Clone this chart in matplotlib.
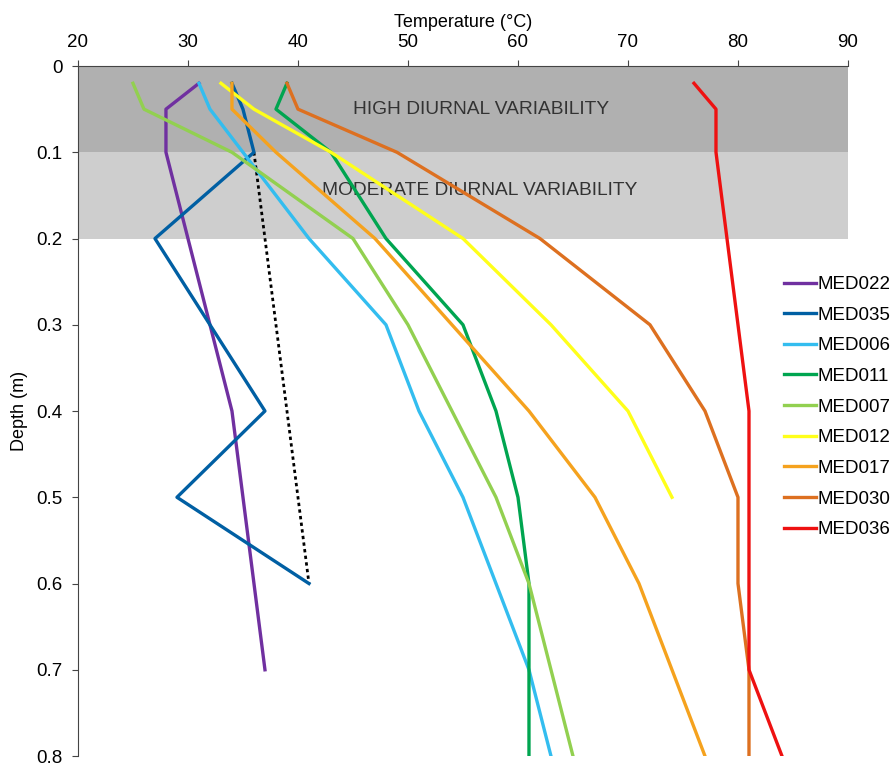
import matplotlib.pyplot as plt

plt.rcParams['font.family'] = ['Liberation Sans', 'DejaVu Sans']

# --- data (depth in m, temperature in degC) ---
names = ["MED022", "MED035", "MED006", "MED011", "MED007",
         "MED012", "MED017", "MED030", "MED036"]
colors = ["#7030A0", "#005FA3", "#33BDEF", "#00A550", "#92D050",
          "#FFFF1A", "#F5A21E", "#DD7020", "#EE1111"]

depth_med022 = [0.02, 0.05, 0.1, 0.2, 0.3, 0.4, 0.5, 0.6, 0.7]
temp_med022 = [31, 28, 28, 30, 32, 34, 35, 36, 37]

depth_med035 = [0.02, 0.05, 0.1, 0.2, 0.3, 0.4, 0.5, 0.6]
temp_med035 = [34, 35, 36, 27, 32, 37, 29, 41]

depth_full = [0.02, 0.05, 0.1, 0.2, 0.3, 0.4, 0.5, 0.6, 0.7, 0.8]
temp_med006 = [31, 32, 35, 41, 48, 51, 55, 58, 61, 63]
temp_med011 = [39, 38, 43, 48, 55, 58, 60, 61, 61, 61]
temp_med007 = [25, 26, 34, 45, 50, 54, 58, 61, 63, 65]

depth_med012 = [0.02, 0.05, 0.1, 0.2, 0.3, 0.4, 0.5]
temp_med012 = [33, 36, 43, 55, 63, 70, 74]

temp_med017 = [34, 34, 38, 47, 54, 61, 67, 71, 74, 77]
temp_med030 = [39, 40, 49, 62, 72, 77, 80, 80, 81, 81]
temp_med036 = [76, 78, 78, 79, 80, 81, 81, 81, 81, 84]

series = [
    (depth_med022, temp_med022),
    (depth_med035, temp_med035),
    (depth_full, temp_med006),
    (depth_full, temp_med011),
    (depth_full, temp_med007),
    (depth_med012, temp_med012),
    (depth_full, temp_med017),
    (depth_full, temp_med030),
    (depth_full, temp_med036),
]

# dotted trend line
trend_depth = [0.1, 0.6]
trend_temp = [36, 41]

fig = plt.figure(figsize=(8.93, 7.66), dpi=100)
ax = fig.add_axes([0.0873, 0.013, 0.8623, 0.9008])

# variability bands
ax.axhspan(0, 0.1, color="#B0B0B0", lw=0, zorder=0)
ax.axhspan(0.1, 0.2, color="#CECECE", lw=0, zorder=0)
ax.text(56.6, 0.05, "HIGH DIURNAL VARIABILITY", ha="center", va="center",
        fontsize=13.8, color="#333333")
ax.text(56.5, 0.144, "MODERATE DIURNAL VARIABILITY", ha="center", va="center",
        fontsize=13.8, color="#333333")

ax.plot(trend_temp, trend_depth, color="black", lw=2, ls=(0, (1.2, 1.2)), zorder=2)

for name, col, (d, t) in zip(names, colors, series):
    ax.plot(t, d, color=col, lw=2.4, label=name, zorder=3)

ax.set_xlim(20, 90)
ax.set_ylim(0.8, 0)
ax.xaxis.tick_top()
ax.xaxis.set_label_position("top")
ax.set_xticks(range(20, 91, 10))
ax.set_yticks([0, 0.1, 0.2, 0.3, 0.4, 0.5, 0.6, 0.7, 0.8])
ax.set_yticklabels(["0", "0.1", "0.2", "0.3", "0.4", "0.5", "0.6", "0.7", "0.8"])
ax.tick_params(labelsize=13.5, length=4, color="#444444", pad=7)
ax.set_xlabel("Temperature (°C)", fontsize=13, labelpad=5)
ax.set_ylabel("Depth (m)", fontsize=13, labelpad=6)

for side in ["right", "bottom"]:
    ax.spines[side].set_visible(False)
for side in ["left", "top"]:
    ax.spines[side].set_color("#444444")

ax.legend(loc="upper left", bbox_to_anchor=(0.907, 0.7065), frameon=False,
          fontsize=13.5, handlelength=1.7, handletextpad=0.08,
          labelspacing=0.72, borderaxespad=0)

fig.savefig("out.png", dpi=100)
